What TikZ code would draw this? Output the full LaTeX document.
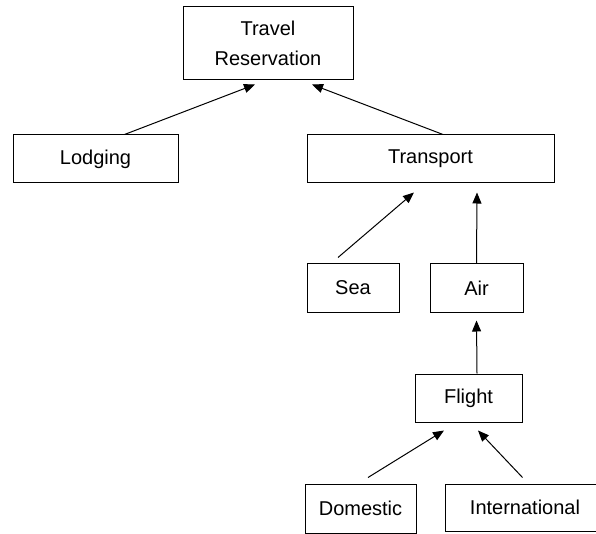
\documentclass[tikz,border=0pt]{standalone}
\usepackage{fontspec}
\setmainfont{Liberation Sans}
\usetikzlibrary{arrows.meta}
\tikzset{
  box/.style={draw, line width=1pt, inner sep=0pt, align=center,
    font=\fontsize{20}{30}\selectfont, anchor=center},
  arr/.style={line width=1pt, -{Triangle[length=11pt,width=9pt]}}
}
\begin{document}
\begin{tikzpicture}[x=1pt,y=-1pt]
\useasboundingbox (0,0) rectangle (596,534);
\clip (0,0) rectangle (596,534);
\fill[white] (0,0) rectangle (596,534);

\node[box, minimum width=170pt, minimum height=73pt] (travel) at (268,43.5) {Travel\\Reservation};
\node[box, minimum width=165pt, minimum height=48pt] (lodging) at (95.5,159) {Lodging};
\node[box, minimum width=247pt, minimum height=48pt] (transport) at (430.5,159) {Transport};
\node[box, minimum width=92pt, minimum height=48pt] (sea) at (353,288) {Sea};
\node[box, minimum width=93pt, minimum height=48pt] (air) at (476.5,288) {Air};
\node[box, minimum width=107pt, minimum height=48pt] (flight) at (468.5,398) {Flight};
\node[box, minimum width=111pt, minimum height=49pt] (domestic) at (360.5,508.5) {Domestic};
\node[box, minimum width=160pt, minimum height=47pt] (international) at (525,507.5) {International};

% generalisation arrows, child to parent
\draw[arr] ([xshift=29pt]lodging.north) -- ([xshift=-13pt,yshift=-4pt]travel.south);
\draw[arr] ([xshift=12.5pt]transport.north) -- ([xshift=44pt,yshift=-4pt]travel.south);
\draw[arr] ([xshift=-15pt,yshift=6pt]sea.north) -- ([xshift=-16.5pt,yshift=-9pt]transport.south);
\draw[arr] (air.north) -- ([xshift=46.5pt,yshift=-9pt]transport.south);
\draw[arr] ([xshift=8.5pt]flight.north) -- ([yshift=-8pt]air.south);
\draw[arr] ([xshift=7.5pt,yshift=6pt]domestic.north) -- ([xshift=-24.5pt,yshift=-8pt]flight.south);
\draw[arr] ([xshift=78pt,yshift=6pt]international.north west) -- ([xshift=9.5pt,yshift=-8pt]flight.south);
\end{tikzpicture}
\end{document}
